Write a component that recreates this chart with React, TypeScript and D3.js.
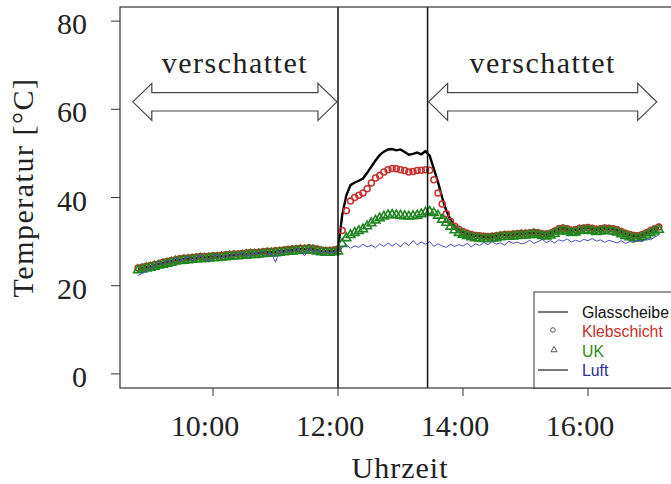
import React from "react";
import * as d3 from "d3";

// Sample times (every 4 minutes)
const times = [
  "08:48","08:52","08:56",
  "09:00","09:04","09:08","09:12","09:16","09:20","09:24","09:28","09:32","09:36","09:40","09:44","09:48","09:52","09:56",
  "10:00","10:04","10:08","10:12","10:16","10:20","10:24","10:28","10:32","10:36","10:40","10:44","10:48","10:52","10:56",
  "11:00","11:04","11:08","11:12","11:16","11:20","11:24","11:28","11:32","11:36","11:40","11:44","11:48","11:52","11:56",
  "12:00","12:04","12:08","12:12","12:16","12:20","12:24","12:28","12:32","12:36","12:40","12:44","12:48","12:52","12:56",
  "13:00","13:04","13:08","13:12","13:16","13:20","13:24","13:28","13:32","13:36","13:40","13:44","13:48","13:52","13:56",
  "14:00","14:04","14:08","14:12","14:16","14:20","14:24","14:28","14:32","14:36","14:40","14:44","14:48","14:52","14:56",
  "15:00","15:04","15:08","15:12","15:16","15:20","15:24","15:28","15:32","15:36","15:40","15:44","15:48","15:52","15:56",
  "16:00","16:04","16:08","16:12","16:16","16:20","16:24","16:28","16:32","16:36","16:40","16:44","16:48","16:52","16:56",
  "17:00","17:04","17:08",
];

const glasscheibe = [
  23.8, 24.0, 24.2,
  24.4, 24.6, 24.9, 25.1, 25.3, 25.5, 25.8, 25.9, 26.0, 26.1, 26.2, 26.3, 26.4, 26.4, 26.5,
  26.6, 26.6, 26.7, 26.8, 26.9, 27.0, 27.0, 27.1, 27.2, 27.3, 27.3, 27.4, 27.5, 27.6, 27.6,
  27.7, 27.8, 27.9, 28.0, 28.1, 28.2, 28.3, 28.3, 28.4, 28.3, 28.1, 27.9, 27.8, 27.8, 27.9,
  28.2, 36.0, 40.5, 42.8, 43.4, 43.8, 44.3, 45.6, 47.0, 48.4, 49.6, 50.4, 50.9, 51.0, 50.7,
  50.9, 50.3, 49.7, 49.9, 50.2, 49.8, 50.5, 49.5, 46.5, 43.5, 40.0, 37.0, 35.0, 33.6, 32.8,
  32.2, 31.8, 31.5, 31.3, 31.2, 31.1, 31.0, 31.1, 31.2, 31.4, 31.5, 31.5, 31.6, 31.7, 31.8,
  31.8, 31.9, 32.0, 31.9, 31.7, 31.6, 31.8, 32.3, 32.8, 33.0, 32.8, 32.5, 32.6, 32.9, 33.0,
  33.1, 32.9, 32.7, 32.8, 33.0, 32.9, 32.8, 32.6, 32.2, 31.8, 31.5, 31.3, 31.2, 31.5, 31.9,
  32.4, 32.8, 33.2,
];

const klebschicht = [
  24.0, 24.2, 24.4,
  24.6, 24.8, 25.0, 25.3, 25.5, 25.7, 25.9, 26.1, 26.2, 26.3, 26.4, 26.5, 26.6, 26.6, 26.7,
  26.8, 26.8, 26.9, 27.0, 27.1, 27.2, 27.2, 27.3, 27.4, 27.5, 27.5, 27.6, 27.7, 27.8, 27.8,
  27.9, 28.0, 28.1, 28.2, 28.3, 28.4, 28.5, 28.5, 28.6, 28.5, 28.3, 28.1, 28.0, 28.0, 28.1,
  28.3, 32.5, 37.0, 39.2, 40.0, 40.5, 41.0, 42.0, 43.3, 44.4, 45.0, 45.8, 46.3, 46.6, 46.5,
  46.3, 46.1, 45.8, 45.9, 46.1, 46.2, 46.3, 46.2, 44.0, 41.0, 38.5, 36.3, 34.6, 33.5, 32.8,
  32.3, 31.9, 31.6, 31.4, 31.3, 31.2, 31.1, 31.2, 31.3, 31.5, 31.6, 31.6, 31.7, 31.8, 31.9,
  31.9, 32.0, 32.1, 32.0, 31.8, 31.7, 31.9, 32.4, 32.9, 33.1, 32.9, 32.6, 32.7, 33.0, 33.1,
  33.2, 33.0, 32.8, 32.9, 33.1, 33.0, 32.9, 32.7, 32.3, 31.9, 31.6, 31.4, 31.3, 31.6, 32.0,
  32.5, 32.9, 33.3,
];

const uk = [
  23.5, 23.7, 23.9,
  24.1, 24.3, 24.6, 24.8, 25.0, 25.2, 25.5, 25.6, 25.7, 25.8, 25.9, 26.0, 26.1, 26.1, 26.2,
  26.3, 26.3, 26.4, 26.5, 26.6, 26.7, 26.7, 26.8, 26.9, 27.0, 27.0, 27.1, 27.2, 27.3, 27.3,
  27.4, 27.5, 27.6, 27.7, 27.8, 27.9, 28.0, 28.0, 28.1, 28.0, 27.8, 27.6, 27.5, 27.5, 27.6,
  27.8, 29.5, 30.8, 31.5, 32.0, 32.4, 32.8, 33.5, 34.2, 34.8, 35.3, 35.7, 36.0, 36.1, 36.0,
  35.9, 35.8, 35.7, 35.8, 35.9, 36.2, 36.6, 36.8, 36.5, 35.9, 35.0, 34.3, 33.4, 32.6, 32.0,
  31.6, 31.3, 31.0, 30.8, 30.7, 30.6, 30.6, 30.7, 30.8, 31.0, 31.1, 31.1, 31.2, 31.3, 31.4,
  31.4, 31.5, 31.6, 31.5, 31.3, 31.2, 31.4, 31.8, 32.3, 32.5, 32.3, 32.0, 32.1, 32.4, 32.5,
  32.6, 32.4, 32.2, 32.3, 32.5, 32.4, 32.3, 32.1, 31.7, 31.3, 31.0, 30.8, 30.7, 31.0, 31.4,
  31.9, 32.3, 32.7,
];

const luft = [
  22.3, 22.8, 23.4,
  24.0, 24.6, 25.5, 24.8, 25.8, 25.2, 26.3, 25.6, 26.0, 26.6, 25.7, 26.4, 26.9, 26.1, 25.4,
  26.7, 27.0, 26.2, 26.9, 26.5, 27.3, 26.8, 27.5, 27.0, 26.6, 27.6, 27.2, 27.8, 26.9, 27.4,
  25.3, 27.9, 27.4, 28.2, 27.6, 28.4, 27.9, 26.8, 28.5, 27.7, 28.0, 27.3, 27.9, 27.5, 27.6,
  27.8, 28.6, 29.3, 28.5, 29.0, 28.7, 29.4, 28.8, 29.2, 28.6, 29.5, 28.9, 29.7, 29.0, 29.6,
  28.8, 29.8, 29.1, 30.2, 29.3, 29.9, 29.4, 30.0, 28.9, 29.5, 29.0, 28.7, 29.4, 28.9, 29.3,
  29.0, 29.6, 28.8, 29.5, 29.1, 29.8, 29.3, 30.0, 29.4, 29.7, 29.2, 30.1, 29.6, 29.9, 29.5,
  29.7, 30.3, 29.6, 30.0, 30.5, 29.8, 30.2, 29.7, 30.4, 30.1, 30.6, 29.9, 30.3, 30.0, 30.5,
  30.2, 30.7, 30.1, 30.4, 29.8, 30.3, 30.0, 29.7, 30.2, 29.6, 30.0, 29.8, 30.3, 30.1, 30.6,
  30.4, 31.0, 31.5,
];

const xTicks = ["10:00", "12:00", "14:00", "16:00"];
const yTicks = [0, 20, 40, 60, 80];
const sunLines = ["12:00", "13:26"];
const shadeSpans: [string, string][] = [["08:43", "11:59"], ["13:27", "17:06"]];
const shadeLabel = "verschattet";
const arrowLevel = 61.7;
const labelLevel = 68.3;
const xTitle = "Uhrzeit";
const yTitle = "Temperatur [°C]";
const legendLabels = ["Glasscheibe", "Klebschicht", "UK", "Luft"];
const legendColors = ["#111111", "#c8302c", "#2f8a22", "#2c2c9a"];

const toMin = (s: string) => {
  const [h, m] = s.split(":").map(Number);
  return h * 60 + m;
};

export default function App() {
  const W = 671, H = 484;
  const L = 120, R = 676, T = 7, B = 388;
  const serif = "'Liberation Serif', 'Times New Roman', serif";
  const sans = "'Liberation Sans', Arial, sans-serif";

  const x = d3.scaleLinear().domain([510.7, 1044.5]).range([L, R]);
  const y = d3.scaleLinear().domain([-3.2, 83.2]).range([B, T]);

  const tm = times.map(toMin);
  const line = d3
    .line<number>()
    .x((_, i) => x(tm[i]))
    .y((d) => y(d));

  const tri = d3.symbol().type(d3.symbolTriangle).size(34)() as string;
  const triLegend = d3.symbol().type(d3.symbolTriangle).size(16)() as string;

  const arrowPath = (x1: number, x2: number, cy: number) => {
    const hl = 19, hh = 18.5, sh = 9.2;
    return `M${x1},${cy} L${x1 + hl},${cy - hh} L${x1 + hl},${cy - sh} L${x2 - hl},${cy - sh} L${x2 - hl},${cy - hh} L${x2},${cy} L${x2 - hl},${cy + hh} L${x2 - hl},${cy + sh} L${x1 + hl},${cy + sh} L${x1 + hl},${cy + hh} Z`;
  };

  const legX = 534, legY = 292;
  const rowBase = [318, 337, 357, 376];

  return (
    <svg
      width={W}
      height={H}
      style={{ position: "absolute", left: 0, top: 0, background: "#fff" }}
    >
      <rect x={0} y={0} width={W} height={H} fill="#fff" />
      <defs>
        <clipPath id="plotClip">
          <rect x={L} y={T} width={R - L} height={B - T} />
        </clipPath>
      </defs>

      {/* series */}
      <g clipPath="url(#plotClip)">
        <path d={line(glasscheibe) || ""} fill="none" stroke="#000" strokeWidth={2.4} />
        {klebschicht.map((v, i) => (
          <circle key={"k" + i} cx={x(tm[i])} cy={y(v)} r={3} fill="none" stroke="#c9302a" strokeWidth={1.5} />
        ))}
        {uk.map((v, i) => (
          <path key={"u" + i} d={tri} transform={`translate(${x(tm[i])},${y(v)})`} fill="none" stroke="#1e861e" strokeWidth={1.6} />
        ))}
        <path d={line(luft) || ""} fill="none" stroke="#4a4ac4" strokeWidth={1} />
      </g>

      {/* vertical sun markers */}
      {sunLines.map((s) => (
        <line key={s} x1={x(toMin(s))} x2={x(toMin(s))} y1={T} y2={B} stroke="#111" strokeWidth={1.5} />
      ))}

      {/* shade arrows */}
      {shadeSpans.map(([a, b]) => {
        const x1 = x(toMin(a)), x2 = x(toMin(b));
        return (
          <g key={a}>
            <path d={arrowPath(x1, x2, y(arrowLevel))} fill="#fff" stroke="#444" strokeWidth={1.2} />
            <text x={(x1 + x2) / 2} y={y(labelLevel)} textAnchor="middle" fontFamily={serif} fontSize={30} letterSpacing={1.5} fill="#222">
              {shadeLabel}
            </text>
          </g>
        );
      })}

      {/* plot box */}
      <rect x={L} y={T} width={R - L} height={B - T} fill="none" stroke="#333" strokeWidth={1.2} />

      {/* y axis */}
      {yTicks.map((t) => (
        <g key={t}>
          <line x1={L - 9} x2={L} y1={y(t)} y2={y(t)} stroke="#333" strokeWidth={1} />
          <text x={87} y={y(t) + 13} textAnchor="end" fontFamily={serif} fontSize={30} fill="#222">
            {t}
          </text>
        </g>
      ))}
      <text
        transform={`translate(33,${(y(80) + y(0)) / 2 - 10}) rotate(-90)`}
        textAnchor="middle"
        fontFamily={serif}
        fontSize={30}
        letterSpacing={1.5}
        fill="#222"
      >
        {yTitle}
      </text>

      {/* x axis */}
      {xTicks.map((t) => (
        <g key={t}>
          <line x1={x(toMin(t))} x2={x(toMin(t))} y1={B} y2={B + 8} stroke="#333" strokeWidth={1} />
          <text x={x(toMin(t)) - 8} y={B + 48} textAnchor="middle" fontFamily={serif} fontSize={30} fill="#222">
            {t}
          </text>
        </g>
      ))}
      <text x={400} y={478} textAnchor="middle" fontFamily={serif} fontSize={30} letterSpacing={1} fill="#222">
        {xTitle}
      </text>

      {/* legend */}
      <rect x={legX} y={legY} width={200} height={B - legY} fill="#fff" stroke="#333" strokeWidth={1} />
      <line x1={538} x2={568} y1={rowBase[0] - 6} y2={rowBase[0] - 6} stroke="#222" strokeWidth={1.2} />
      <circle cx={553} cy={rowBase[1] - 7} r={2.3} fill="none" stroke="#555" strokeWidth={1} />
      <path d={triLegend} transform={`translate(554,${rowBase[2] - 7})`} fill="none" stroke="#555" strokeWidth={1} />
      <line x1={538} x2={568} y1={rowBase[3] - 6} y2={rowBase[3] - 6} stroke="#222" strokeWidth={1.2} />
      {legendLabels.map((lab, i) => (
        <text key={lab} x={582} y={rowBase[i]} fontFamily={sans} fontSize={15.8} fill={legendColors[i]}>
          {lab}
        </text>
      ))}
    </svg>
  );
}
